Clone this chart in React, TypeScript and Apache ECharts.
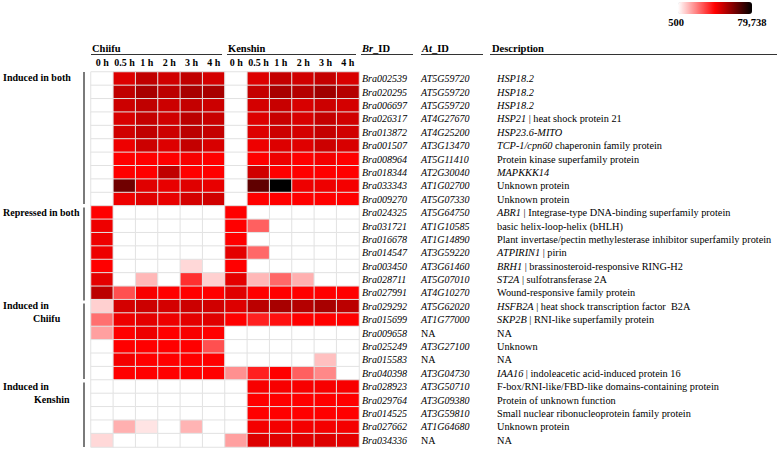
import React, { useEffect, useRef } from "react";
import * as echarts from "echarts";

const timeLabels = ["0 h", "0.5 h", "1 h", "2 h", "3 h", "4 h"];
const cultivars = ["Chiifu", "Kenshin"];
const groupNames = ["Induced in both", "Repressed in both", "Induced in\nChiifu", "Induced in\nKenshin"];

const brIds = [
  "Bra002539", "Bra020295", "Bra006697", "Bra026317", "Bra013872", "Bra001507", "Bra008964",
  "Bra018344", "Bra033343", "Bra009270", "Bra024325", "Bra031721", "Bra016678", "Bra014547",
  "Bra003450", "Bra028711", "Bra027991", "Bra029292", "Bra015699", "Bra009658", "Bra025249",
  "Bra015583", "Bra040398", "Bra028923", "Bra029764", "Bra014525", "Bra027662", "Bra034336",
];

const atIds = [
  "AT5G59720", "AT5G59720", "AT5G59720", "AT4G27670", "AT4G25200", "AT3G13470", "AT5G11410",
  "AT2G30040", "AT1G02700", "AT5G07330", "AT5G64750", "AT1G10585", "AT1G14890", "AT3G59220",
  "AT3G61460", "AT5G07010", "AT4G10270", "AT5G62020", "AT1G77000", "NA", "AT3G27100",
  "NA", "AT3G04730", "AT3G50710", "AT3G09380", "AT3G59810", "AT1G64680", "NA",
];

const descItalic = [
  "HSP18.2", "HSP18.2", "HSP18.2", "HSP21", "HSP23.6-MITO", "TCP-1/cpn60", "",
  "MAPKKK14", "", "", "ABR1", "", "", "ATPIRIN1",
  "BRH1", "ST2A", "", "HSFB2A", "SKP2B", "", "",
  "", "IAA16", "", "", "", "", "",
];

const descPlain = [
  "", "", "", " | heat shock protein 21", "", " chaperonin family protein", "Protein kinase superfamily protein",
  "", "Unknown protein", "Unknown protein", " | Integrase-type DNA-binding superfamily protein", "basic helix-loop-helix (bHLH)",
  "Plant invertase/pectin methylesterase inhibitor superfamily protein", " | pirin",
  " | brassinosteroid-responsive RING-H2", " | sulfotransferase 2A", "Wound-responsive family protein",
  " | heat shock transcription factor  B2A", " | RNI-like superfamily protein", "NA", "Unknown",
  "NA", " | indoleacetic acid-induced protein 16", "F-box/RNI-like/FBD-like domains-containing protein",
  "Protein of unknown function", "Small nuclear ribonucleoprotein family protein", "Unknown protein", "NA",
];

const chiifuValues = [
  [500, 45400, 49900, 47400, 49900, 46800],
  [500, 49900, 53600, 50700, 53600, 53600],
  [500, 48000, 49900, 48000, 49300, 48000],
  [500, 46200, 49300, 47400, 50700, 48700],
  [500, 47400, 49900, 48000, 50700, 49300],
  [500, 42760, 48000, 45400, 49300, 46200],
  [500, 40100, 40100, 40100, 41200, 40100],
  [500, 40100, 40100, 49900, 40100, 40100],
  [500, 62300, 44900, 43700, 44900, 43700],
  [500, 42760, 44900, 43700, 46800, 47400],
  [40100, 500, 500, 500, 500, 500],
  [42760, 500, 500, 500, 500, 500],
  [42760, 500, 500, 500, 500, 500],
  [42760, 500, 500, 500, 500, 500],
  [40100, 500, 500, 500, 6560, 500],
  [44300, 500, 11530, 500, 32660, 7800],
  [50700, 27690, 41200, 40100, 40100, 40100],
  [7800, 46800, 48000, 46800, 48000, 47400],
  [22720, 42760, 44300, 42760, 44300, 44900],
  [15260, 40100, 42760, 40100, 41200, 40100],
  [500, 40100, 40100, 40100, 40100, 27690],
  [500, 41800, 40100, 40100, 40100, 40100],
  [500, 40100, 40100, 40100, 40100, 40100],
  [500, 500, 500, 500, 500, 500],
  [500, 500, 500, 500, 500, 500],
  [500, 500, 500, 500, 500, 500],
  [500, 12770, 4700, 500, 12150, 500],
  [6560, 500, 500, 500, 500, 500],
];

const kenshinValues = [
  [500, 45400, 49300, 47400, 49300, 46200],
  [500, 49300, 53600, 51800, 54900, 51800],
  [500, 46800, 48700, 46200, 48000, 46800],
  [500, 45400, 48700, 46200, 49300, 47400],
  [500, 45400, 48000, 46800, 49300, 47400],
  [500, 42760, 45400, 44900, 48000, 46200],
  [500, 40100, 42760, 40100, 41800, 40100],
  [500, 47400, 40100, 40100, 40100, 40100],
  [500, 64800, 79738, 42760, 42760, 41800],
  [500, 40100, 40100, 40100, 40100, 40100],
  [40100, 500, 500, 500, 500, 500],
  [40100, 25200, 500, 500, 500, 500],
  [40100, 500, 500, 500, 500, 500],
  [44300, 23960, 500, 500, 500, 500],
  [40100, 500, 500, 500, 500, 500],
  [44300, 11530, 23960, 12770, 500, 500],
  [44900, 40100, 40100, 40100, 40100, 40100],
  [45400, 50700, 53600, 51800, 53600, 50700],
  [40100, 35170, 37600, 40100, 40100, 40100],
  [500, 500, 500, 500, 500, 500],
  [500, 500, 500, 500, 500, 500],
  [500, 500, 500, 500, 10290, 500],
  [17750, 35170, 40100, 25200, 19000, 500],
  [500, 41200, 41200, 41200, 41200, 41200],
  [500, 40100, 40100, 40100, 40100, 40100],
  [500, 40100, 40100, 40100, 40100, 40100],
  [500, 41800, 41800, 41800, 41800, 41800],
  [15260, 45400, 44900, 44900, 45400, 44300],
];

const scaleMin = 500;
const scaleMax = 79738;

const FONT = "'Liberation Serif', 'Times New Roman', serif";

export default function App() {
  const ref = useRef<HTMLDivElement>(null);
  useEffect(() => {
    if (!ref.current) return;
    const chart = echarts.init(ref.current, undefined, { renderer: "svg" });

    const xCats = [...timeLabels, ...timeLabels];
    const data: number[][] = [];
    brIds.forEach((_, r) => {
      chiifuValues[r].forEach((v, c) => data.push([c, r, v]));
      kenshinValues[r].forEach((v, c) => data.push([c + 6, r, v]));
    });

    const baseY = {
      type: "category" as const,
      data: brIds,
      inverse: true,
      position: "right" as const,
      axisLine: { show: false },
      axisTick: { show: false },
      splitLine: { show: false },
    };

    const txt = (text: string, x: number, y: number, extra: any = {}) => ({
      type: "text",
      x,
      y,
      style: {
        text,
        fontFamily: FONT,
        fontSize: 10.5,
        fontWeight: "bold",
        fill: "#000",
        verticalAlign: "middle",
        ...extra,
      },
    });

    const hline = (x1: number, x2: number, y: number) => ({
      type: "line",
      shape: { x1, y1: y, x2, y2: y },
      style: { stroke: "#333", lineWidth: 1.2 },
    });
    const vbar = (y1: number, y2: number) => ({
      type: "line",
      shape: { x1: 84, y1, x2: 84, y2 },
      style: { stroke: "#7a7a7a", lineWidth: 2 },
    });

    const g0 = groupNames[2].split("\n");
    const g1 = groupNames[3].split("\n");
    const gl = { fontSize: 10 };

    chart.setOption({
      animation: false,
      backgroundColor: "#fff",
      grid: { left: 91, right: 418, top: 72, height: 375 },
      xAxis: {
        type: "category",
        data: xCats,
        position: "top",
        axisLine: { show: false },
        axisTick: { show: false },
        splitLine: { show: false },
        axisLabel: {
          interval: 0,
          margin: 5,
          fontFamily: FONT,
          fontSize: 10,
          fontWeight: "bold",
          color: "#000",
        },
      },
      yAxis: [
        {
          ...baseY,
          offset: 0,
          axisLabel: {
            interval: 0,
            margin: 3,
            fontFamily: FONT,
            fontSize: 10,
            fontStyle: "italic",
            color: "#000",
          },
        },
        {
          ...baseY,
          offset: 59,
          axisLabel: {
            interval: 0,
            margin: 3,
            color: "#000",
            formatter: (_v: string, i: number) =>
              atIds[i] === "NA" ? `{n|${atIds[i]}}` : `{i|${atIds[i]}}`,
            rich: {
              i: { fontFamily: FONT, fontSize: 10, fontStyle: "italic", color: "#000" },
              n: { fontFamily: FONT, fontSize: 10, color: "#000" },
            },
          },
        },
        {
          ...baseY,
          offset: 135,
          axisLabel: {
            interval: 0,
            margin: 3,
            color: "#000",
            formatter: (_v: string, i: number) =>
              (descItalic[i] ? `{i|${descItalic[i]}}` : "") +
              (descPlain[i] ? `{n|${descPlain[i]}}` : ""),
            rich: {
              i: { fontFamily: FONT, fontSize: 10.3, fontStyle: "italic", color: "#000" },
              n: { fontFamily: FONT, fontSize: 10.3, color: "#000" },
            },
          },
        },
      ],
      visualMap: {
        type: "continuous",
        min: scaleMin,
        max: scaleMax,
        dimension: 2,
        seriesIndex: 0,
        orient: "horizontal",
        left: 678,
        top: 2,
        itemWidth: 12,
        itemHeight: 74,
        padding: 0,
        calculable: false,
        showLabel: false,
        text: null,
        inRange: { color: ["#ffffff", "#ff0000", "#000000"] },
      },
      series: [
        {
          type: "heatmap",
          xAxisIndex: 0,
          yAxisIndex: 0,
          data,
          itemStyle: { borderColor: "#e2e2e2", borderWidth: 1 },
          emphasis: { disabled: true },
        },
      ],
      graphic: [
        txt(String(scaleMin), 676, 22, { align: "center" }),
        txt(scaleMax.toLocaleString("en-US"), 752, 22, { align: "center" }),
        txt(cultivars[0], 92, 48),
        txt(cultivars[1], 228, 48),
        hline(91, 222, 54.5),
        hline(227, 356, 54.5),
        {
          type: "text",
          x: 362,
          y: 48,
          style: {
            text: "{i|Br}{b|_ID}",
            verticalAlign: "middle",
            rich: {
              i: { fontFamily: FONT, fontSize: 10.5, fontWeight: "bold", fontStyle: "italic", fill: "#000" },
              b: { fontFamily: FONT, fontSize: 10.5, fontWeight: "bold", fill: "#000" },
            },
          },
        },
        {
          type: "text",
          x: 422,
          y: 48,
          style: {
            text: "{i|At}{b|_ID}",
            verticalAlign: "middle",
            rich: {
              i: { fontFamily: FONT, fontSize: 10.5, fontWeight: "bold", fontStyle: "italic", fill: "#000" },
              b: { fontFamily: FONT, fontSize: 10.5, fontWeight: "bold", fill: "#000" },
            },
          },
        },
        txt("Description", 492, 48),
        hline(361, 413, 54.5),
        hline(421, 483, 54.5),
        hline(490, 777, 54.5),
        txt(groupNames[0], 3, 77, gl),
        txt(groupNames[1], 3, 212, gl),
        txt(g0[0], 3, 305, gl),
        txt(g0[1], 33, 318, gl),
        txt(g1[0], 3, 386, gl),
        txt(g1[1], 34, 399, gl),
        vbar(72, 204),
        vbar(207.5, 300.5),
        vbar(303.5, 379),
        vbar(382.5, 447),
      ],
    });
    return () => chart.dispose();
  }, []);
  return (
    <div
      ref={ref}
      style={{ position: "fixed", left: 0, top: 0, width: 777, height: 453, background: "#fff" }}
    />
  );
}
